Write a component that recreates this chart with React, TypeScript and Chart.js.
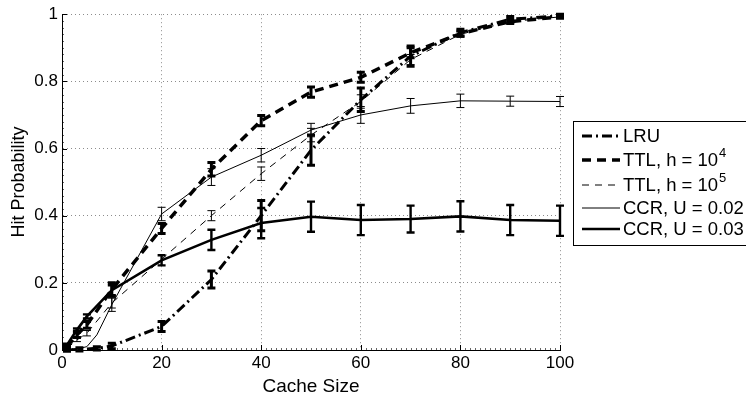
import React, { useEffect, useRef } from 'react';
import { Chart, registerables } from 'chart.js';

Chart.register(...registerables);

// ---- data ----
const xTickValues = [0, 20, 40, 60, 80, 100];
const yTickValues = [0, 0.2, 0.4, 0.6, 0.8, 1];

const lruX = [1, 3.5, 7, 10, 20, 30, 40, 50, 60, 70, 80, 90, 100];
const lruY = [0, 0.002, 0.005, 0.012, 0.07, 0.21, 0.4, 0.595, 0.745, 0.875, 0.945, 0.985, 0.995];
const lruErr = [0.004, 0.005, 0.005, 0.008, 0.015, 0.025, 0.045, 0.045, 0.035, 0.03, 0.01, 0.008, 0.005];

const ttl4X = [1, 3, 5, 10, 20, 30, 40, 50, 60, 70, 80, 90, 100];
const ttl4Y = [0.01, 0.045, 0.075, 0.18, 0.362, 0.538, 0.683, 0.768, 0.812, 0.885, 0.942, 0.978, 0.992];
const ttl4Err = [0.005, 0.008, 0.01, 0.02, 0.015, 0.02, 0.015, 0.015, 0.015, 0.015, 0.008, 0.006, 0.004];

const ttl5X = [1, 3, 5, 10, 20, 30, 40, 50, 60, 70, 80, 90, 100];
const ttl5Y = [0.005, 0.03, 0.05, 0.14, 0.27, 0.4, 0.525, 0.64, 0.74, 0.865, 0.94, 0.978, 0.992];
const ttl5Err = [0, 0.005, 0.008, 0.015, 0, 0.015, 0.02, 0.02, 0.02, 0.015, 0.008, 0.006, 0.004];

const ccr2X = [1, 3, 5, 7, 10, 20, 30, 40, 50, 60, 70, 80, 90, 100];
const ccr2Y = [0, 0.003, 0.01, 0.045, 0.135, 0.405, 0.515, 0.58, 0.655, 0.7, 0.727, 0.742, 0.741, 0.74];
const ccr2Err = [0, 0, 0, 0, 0.02, 0.02, 0.025, 0.02, 0.02, 0.025, 0.022, 0.02, 0.015, 0.015];

const ccr3X = [1, 3, 5, 10, 20, 30, 40, 50, 60, 70, 80, 90, 100];
const ccr3Y = [0.015, 0.06, 0.1, 0.178, 0.267, 0.328, 0.378, 0.397, 0.387, 0.39, 0.398, 0.387, 0.385];
const ccr3Err = [0.004, 0.004, 0.006, 0.015, 0.015, 0.03, 0.045, 0.045, 0.045, 0.04, 0.045, 0.045, 0.045];

const FONT = '"Liberation Sans", Arial, Helvetica, sans-serif';

type Style = { width: number; dash: number[]; errWidth: number };
const styles: Record<string, Style> = {
  lru: { width: 3, dash: [10, 4, 2, 4], errWidth: 3 },
  ttl4: { width: 3.5, dash: [9, 6], errWidth: 3 },
  ttl5: { width: 1, dash: [7, 6], errWidth: 1 },
  ccr2: { width: 1, dash: [], errWidth: 1 },
  ccr3: { width: 2.6, dash: [], errWidth: 2.4 },
};

const pts = (xs: number[], ys: number[]) => xs.map((x, i) => ({ x, y: ys[i] }));

const errorBarPlugin = {
  id: 'errorBars',
  afterDatasetsDraw(chart: any) {
    const ctx = chart.ctx;
    const xs = chart.scales.x;
    const ys = chart.scales.y;
    chart.data.datasets.forEach((ds: any) => {
      if (!ds.errors) return;
      ctx.save();
      ctx.strokeStyle = '#000';
      ctx.lineWidth = ds.errWidth;
      ctx.setLineDash([]);
      ctx.lineCap = 'butt';
      ds.data.forEach((p: any, i: number) => {
        const e = ds.errors[i];
        if (!e || e <= 0) return;
        const px = xs.getPixelForValue(p.x);
        const y1 = ys.getPixelForValue(p.y - e);
        const y2 = ys.getPixelForValue(p.y + e);
        const cap = 4;
        ctx.beginPath();
        ctx.moveTo(px, y1);
        ctx.lineTo(px, y2);
        ctx.moveTo(px - cap, y1);
        ctx.lineTo(px + cap, y1);
        ctx.moveTo(px - cap, y2);
        ctx.lineTo(px + cap, y2);
        ctx.stroke();
      });
      ctx.restore();
    });
  },
};

const axisTicksPlugin = {
  id: 'axisTicks',
  afterDraw(chart: any) {
    const ctx = chart.ctx;
    const xs = chart.scales.x;
    const ys = chart.scales.y;
    const area = chart.chartArea;
    ctx.save();
    ctx.strokeStyle = '#000';
    ctx.lineWidth = 1;
    ctx.beginPath();
    xTickValues.forEach((v) => {
      const px = Math.round(xs.getPixelForValue(v)) + 0.5;
      ctx.moveTo(px, area.bottom);
      ctx.lineTo(px, area.bottom - 5);
    });
    yTickValues.forEach((v) => {
      const py = Math.round(ys.getPixelForValue(v)) + 0.5;
      ctx.moveTo(area.left, py);
      ctx.lineTo(area.left + 5, py);
    });
    ctx.stroke();
    // minor ticks
    ctx.strokeStyle = 'rgba(0,0,0,0.6)';
    ctx.beginPath();
    for (let k = 1; k < 100; k++) {
      const px = Math.round(xs.getPixelForValue(k)) + 0.5;
      ctx.moveTo(px, area.bottom);
      ctx.lineTo(px, area.bottom - 2);
    }
    for (let k = 1; k < 50; k++) {
      const py = Math.round(ys.getPixelForValue(k * 0.02)) + 0.5;
      ctx.moveTo(area.left, py);
      ctx.lineTo(area.left + 2, py);
    }
    ctx.stroke();
    ctx.restore();
  },
};

const legendItems = [
  { key: 'lru', label: 'LRU', sup: '' },
  { key: 'ttl4', label: 'TTL, h = 10', sup: '4' },
  { key: 'ttl5', label: 'TTL, h = 10', sup: '5' },
  { key: 'ccr2', label: 'CCR, U = 0.02', sup: '' },
  { key: 'ccr3', label: 'CCR, U = 0.03', sup: '' },
];
const legendRows = [136, 160, 185, 208, 229];

const legendPlugin = {
  id: 'customLegend',
  afterDraw(chart: any) {
    const ctx = chart.ctx;
    const left = 573.5;
    const top = 121.5;
    const bottom = 245.5;
    ctx.save();
    ctx.fillStyle = '#fff';
    ctx.fillRect(left, top, 200, bottom - top);
    ctx.strokeStyle = '#000';
    ctx.lineWidth = 1;
    ctx.setLineDash([]);
    ctx.strokeRect(left, top, 200, bottom - top);
    legendItems.forEach((it, i) => {
      const y = legendRows[i];
      const st = styles[it.key];
      ctx.save();
      ctx.strokeStyle = '#000';
      ctx.lineWidth = st.width;
      ctx.setLineDash(st.dash);
      ctx.beginPath();
      ctx.moveTo(582, y);
      ctx.lineTo(620, y);
      ctx.stroke();
      ctx.restore();
      ctx.fillStyle = '#000';
      ctx.font = `18.5px ${FONT}`;
      ctx.textBaseline = 'middle';
      ctx.textAlign = 'left';
      ctx.fillText(it.label, 623, y + 1);
      if (it.sup) {
        const w = ctx.measureText(it.label).width;
        ctx.font = `13px ${FONT}`;
        ctx.fillText(it.sup, 623 + w + 1, y - 7);
      }
    });
    ctx.restore();
  },
};

export default function App() {
  const ref = useRef<HTMLCanvasElement | null>(null);

  useEffect(() => {
    if (!ref.current) return;
    const mk = (key: string, xs: number[], ys: number[], errs: number[]) => ({
      label: key,
      data: pts(xs, ys),
      errors: errs,
      errWidth: styles[key].errWidth,
      borderColor: '#000',
      backgroundColor: '#000',
      borderWidth: styles[key].width,
      borderDash: styles[key].dash,
      borderCapStyle: 'butt',
      showLine: true,
      pointRadius: 0,
      tension: 0,
    });
    const chart = new Chart(ref.current, {
      type: 'scatter',
      data: {
        datasets: [
          mk('ccr2', ccr2X, ccr2Y, ccr2Err),
          mk('ttl5', ttl5X, ttl5Y, ttl5Err),
          mk('ccr3', ccr3X, ccr3Y, ccr3Err),
          mk('ttl4', ttl4X, ttl4Y, ttl4Err),
          mk('lru', lruX, lruY, lruErr),
        ] as any,
      },
      options: {
        animation: false,
        responsive: true,
        maintainAspectRatio: false,
        layout: { padding: { left: 0, right: 186, top: 14, bottom: 0 } },
        plugins: {
          legend: { display: false },
          tooltip: { enabled: false },
        },
        scales: {
          x: {
            type: 'linear',
            min: 0,
            max: 100,
            afterFit: (s: any) => {
              s.height = 49;
            },
            ticks: {
              stepSize: 20,
              color: '#000',
              font: { family: FONT, size: 17 },
              padding: 3,
              maxRotation: 0,
            },
            grid: {
              color: 'rgba(0,0,0,0.45)',
              lineWidth: 1,
              drawTicks: false,
            },
            border: { display: true, color: '#000', width: 1, dash: [1, 3] },
            title: {
              display: true,
              text: 'Cache Size',
              color: '#000',
              font: { family: FONT, size: 19 },
              padding: { top: 0, bottom: 1 },
            },
          },
          y: {
            type: 'linear',
            min: 0,
            max: 1,
            afterFit: (s: any) => {
              s.width = 62;
            },
            ticks: {
              stepSize: 0.2,
              color: '#000',
              font: { family: FONT, size: 17 },
              padding: 4,
              callback: (v: any) => String(Number(Number(v).toFixed(1))),
            },
            grid: {
              color: 'rgba(0,0,0,0.45)',
              lineWidth: 1,
              drawTicks: false,
            },
            border: { display: true, color: '#000', width: 1, dash: [1, 3] },
            title: {
              display: true,
              text: 'Hit Probability',
              color: '#000',
              font: { family: FONT, size: 18 },
              padding: { top: 8, bottom: 0 },
            },
          },
        },
      } as any,
      plugins: [errorBarPlugin, axisTicksPlugin, legendPlugin],
    });
    return () => chart.destroy();
  }, []);

  return (
    <div style={{ position: 'absolute', left: 0, top: 0, width: 746, height: 399, background: '#fff' }}>
      <canvas ref={ref} />
    </div>
  );
}
